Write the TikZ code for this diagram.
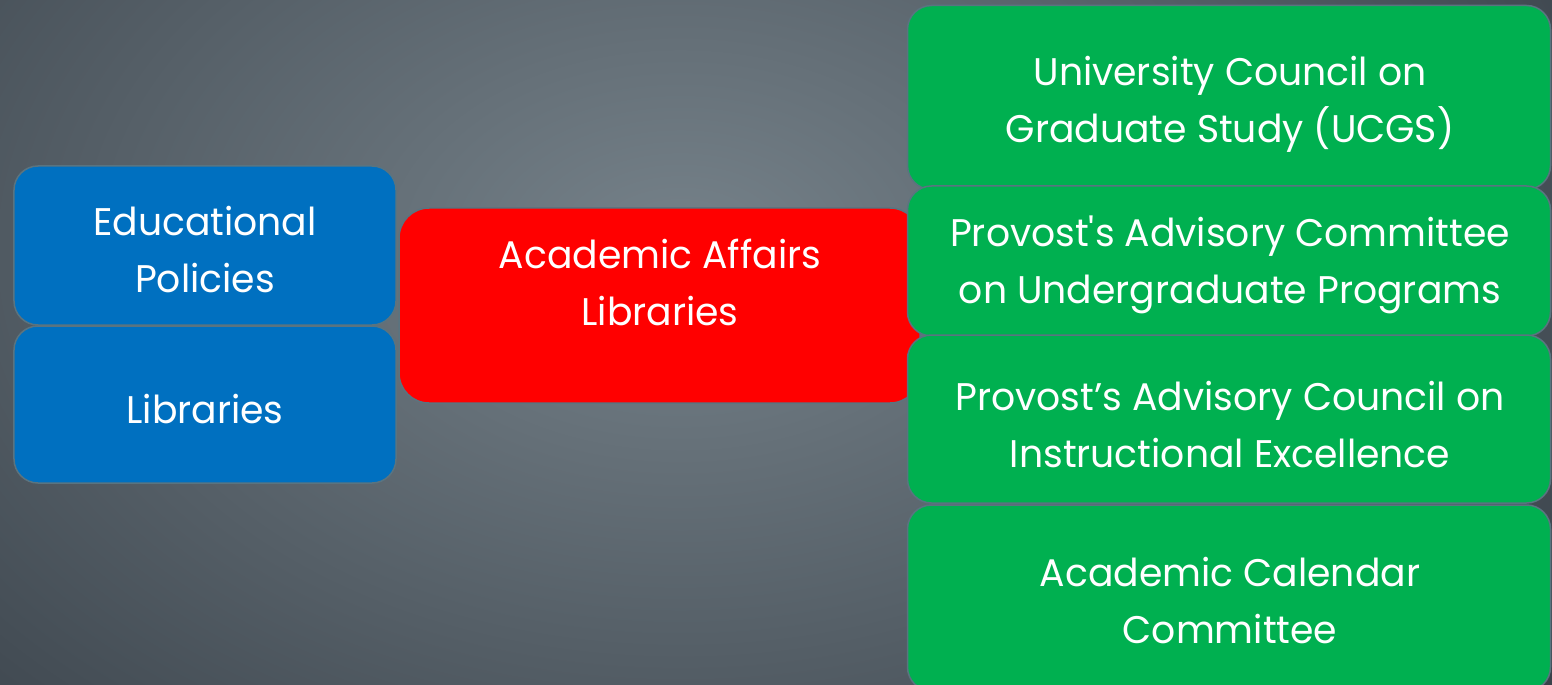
\documentclass[tikz,border=0pt]{standalone}
\usepackage{fontspec}
\setmainfont{Poppins}[FakeStretch=0.98]
\definecolor{bluebox}{HTML}{0070C0}
\definecolor{redbox}{HTML}{FF0000}
\definecolor{greenbox}{HTML}{00B050}
\definecolor{edgec}{HTML}{5A7480}
\definecolor{bglight}{HTML}{76828A}
\definecolor{bgdark}{HTML}{343C44}
\newcommand{\lbfont}{\fontsize{38.5bp}{57bp}\selectfont}
\begin{document}
\begin{tikzpicture}[x=1bp,y=-1bp,
  box/.style={draw=edgec, line width=1.5bp, rounded corners=24bp, inner sep=0pt},
  lbl/.style={text=white, align=center, font=\lbfont, inner sep=0pt}]
\useasboundingbox (0,0) rectangle (1552,685);
\shade[inner color=bglight, outer color=bgdark] (-500,-550) rectangle (1860,1050);
% left column
\node[box, fill=bluebox, minimum width=382bp, minimum height=159bp] (edu) at (205,245.5) {};
\node[box, fill=bluebox, minimum width=382bp, minimum height=157bp] (lib) at (205,404.5) {};
% centre
\node[box, fill=redbox, rounded corners=30bp, minimum width=521bp, minimum height=195bp] (aal) at (659.5,305.5) {};
% right column
\node[box, fill=greenbox, minimum width=643bp, minimum height=184bp] (ucgs) at (1229,97.5) {};
\node[box, fill=greenbox, minimum width=643bp, minimum height=150bp] (pacu) at (1229,261) {};
\node[box, fill=greenbox, minimum width=643bp, minimum height=168bp] (paci) at (1229,419) {};
\node[box, fill=greenbox, minimum width=643bp, minimum height=186bp] (acc) at (1229,598) {};
% labels
\node[lbl] (t-edu) at (205,250) {Educational\\Policies};
\node[lbl] (t-lib) at (205,409) {Libraries};
\node[lbl] (t-aal) at (660,282) {Academic Affairs\\Libraries};
\node[lbl] (t-ucgs) at (1230,104) {University Council on\\Graduate Study (UCGS)};
\node[lbl] (t-pacu) at (1230,265) {Provost\textquotesingle s Advisory Committee\\on Undergraduate Programs};
\node[lbl] (t-paci) at (1230,425) {Provost’s Advisory Council on\\Instructional Excellence};
\node[lbl] (t-acc) at (1230,601) {Academic Calendar\\Committee};
\end{tikzpicture}
\end{document}
